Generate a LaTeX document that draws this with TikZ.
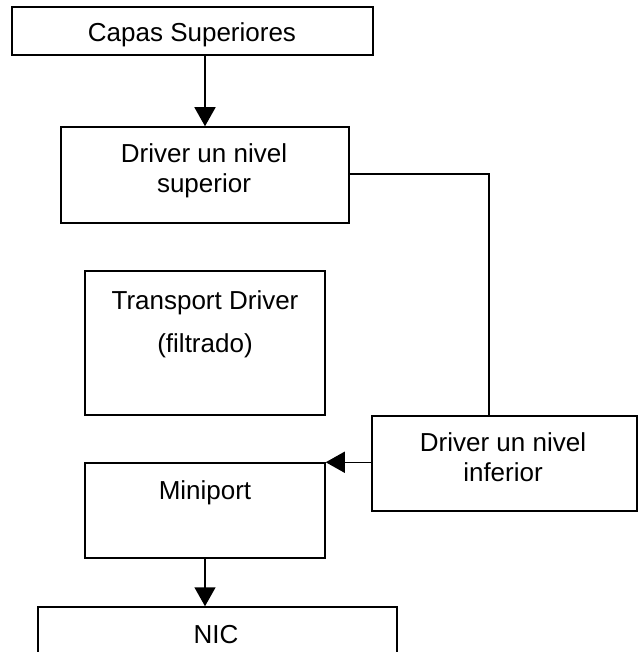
\documentclass[tikz,border=0pt]{standalone}
\usepackage{fontspec}
\setmainfont{Liberation Sans}
\usetikzlibrary{arrows.meta}
\begin{document}
\begin{tikzpicture}[x=1pt,y=-1pt,
  box/.style={draw=black,line width=1.5pt,inner sep=0pt,fill=white},
  txt/.style={anchor=base,inner sep=0pt,font=\fontsize{26}{30}\selectfont},
  conn/.style={draw=black,line width=1.5pt},
  arr/.style={conn,-{Triangle[length=19pt,width=21pt]}}]
\clip (0,0) rectangle (643,652);
\fill[white] (0,0) rectangle (643,652);
% boxes
\node[box,minimum width=361pt,minimum height=48pt] (cap) at (192.5,31) {};
\node[box,minimum width=288pt,minimum height=96pt] (sup) at (205,175) {};
\node[box,minimum width=240pt,minimum height=144pt] (trans) at (205,343) {};
\node[box,minimum width=265pt,minimum height=95pt] (inf) at (504.5,463.5) {};
\node[box,minimum width=240pt,minimum height=95pt] (mini) at (205,510.5) {};
\node[box,minimum width=359pt,minimum height=70pt] (nic) at (217.5,642) {};
% texts
\node[txt] (tcap) at (192,42) {Capas Superiores};
\node[txt] (tsup1) at (204,163) {Driver un nivel};
\node[txt] (tsup2) at (204,193) {superior};
\node[txt] (ttr1) at (205,309) {Transport Driver};
\node[txt] (ttr2) at (205,352) {(filtrado)};
\node[txt] (tinf1) at (503,451.5) {Driver un nivel};
\node[txt] (tinf2) at (503,481.5) {inferior};
\node[txt] (tmini) at (205,499) {Miniport};
\node[txt] (tnic) at (216,643) {NIC};
% connectors
\coordinate (bend) at (489,174);
\draw[arr] (sup.north |- cap.south) -- (sup.north);
\draw[conn] (sup.east |- bend) -- (bend) -- (bend |- inf.north);
\draw[arr] (inf.west |- mini.north east) -- (mini.north east);
\draw[arr] (mini.south) -- (mini.south |- nic.north);
\end{tikzpicture}
\end{document}
